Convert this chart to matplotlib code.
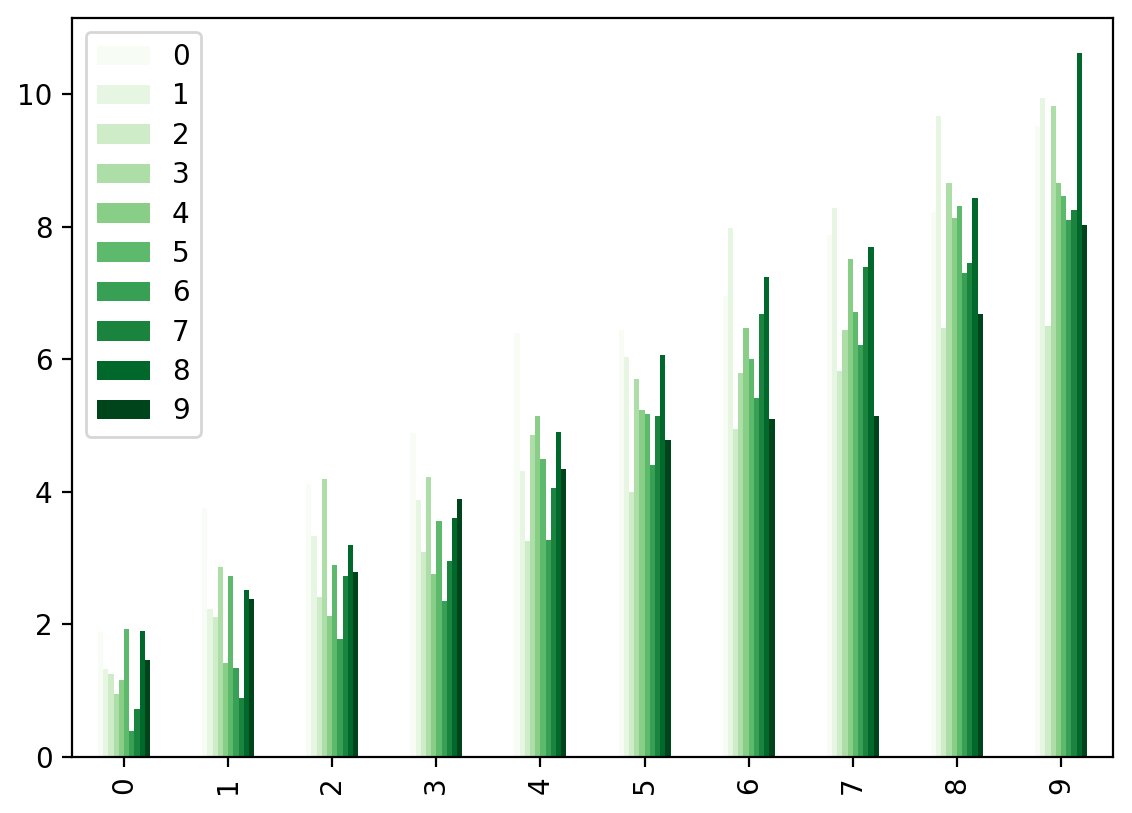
import pandas as pd
import matplotlib
matplotlib.use('Agg')
import matplotlib.pyplot as plt

rows = list(range(10))
cols = list(range(10))

# values read per row (group on x axis), one per column 0..9
r0 = [1.88, 1.33, 1.25, 0.95, 1.16, 1.93, 0.39, 0.72, 1.90, 1.47]
r1 = [3.75, 2.24, 2.11, 2.87, 1.42, 2.73, 1.34, 0.89, 2.52, 2.39]
r2 = [4.12, 3.34, 2.42, 4.20, 2.13, 2.89, 1.78, 2.73, 3.20, 2.79]
r3 = [4.89, 3.88, 3.10, 4.23, 2.76, 3.56, 2.36, 2.95, 3.60, 3.90]
r4 = [6.39, 4.32, 3.26, 4.86, 5.15, 4.50, 3.28, 4.06, 4.91, 4.35]
r5 = [6.45, 6.04, 4.00, 5.70, 5.24, 5.17, 4.40, 5.15, 6.06, 4.79]
r6 = [6.95, 7.98, 4.95, 5.79, 6.48, 6.01, 5.41, 6.69, 7.25, 5.10]
r7 = [7.87, 8.29, 5.82, 6.44, 7.51, 6.71, 6.21, 7.39, 7.70, 5.14]
r8 = [8.23, 9.67, 6.47, 8.66, 8.14, 8.31, 7.31, 7.45, 8.44, 6.68]
r9 = [9.52, 9.94, 6.50, 9.83, 8.66, 8.47, 8.10, 8.26, 10.62, 8.02]

df = pd.DataFrame([r0, r1, r2, r3, r4, r5, r6, r7, r8, r9], index=rows, columns=cols)

fig, ax = plt.subplots(figsize=(5.66, 4.065), dpi=200)
df.plot(kind='bar', colormap='Greens', ax=ax, legend=False)
ax.legend(labelspacing=0.41, handlelength=1.9)
fig.subplots_adjust(left=0.0636, right=0.9832, top=0.9779, bottom=0.0689)
fig.savefig('out.png', dpi=200)
